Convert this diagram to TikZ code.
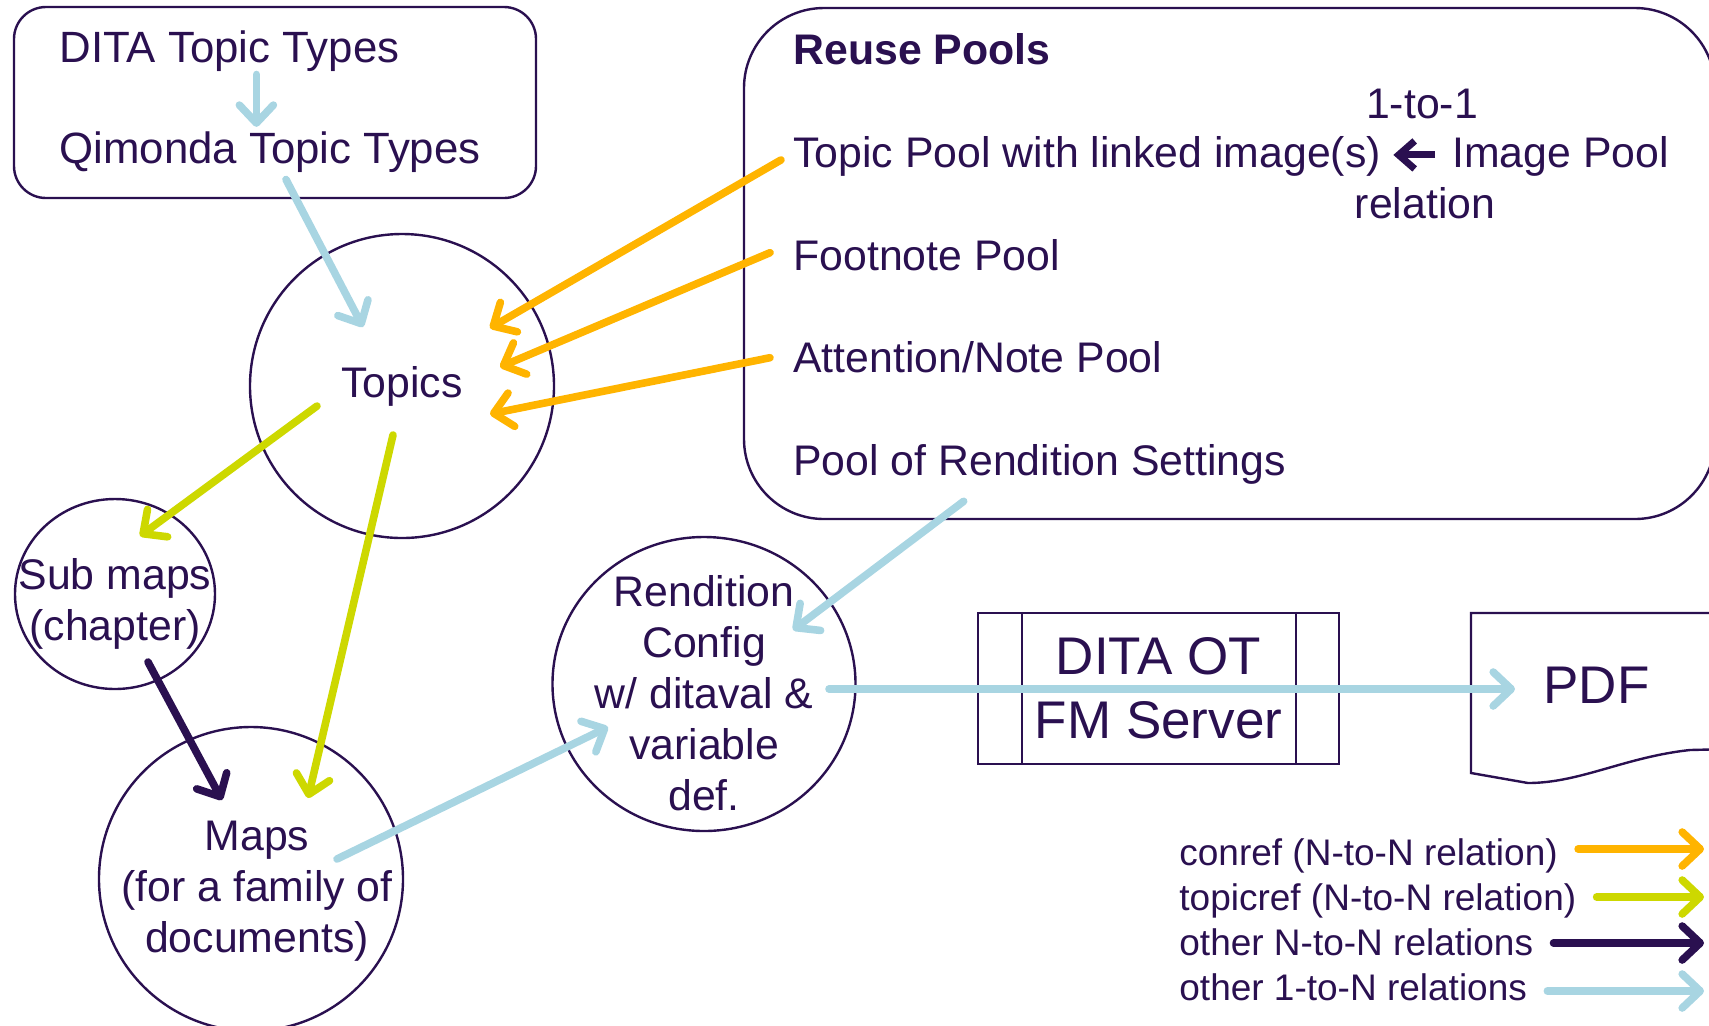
\documentclass[tikz,border=0pt]{standalone}
\usepackage{fontspec}
\setmainfont{Liberation Sans}
\usepackage{tikz}
\usetikzlibrary{arrows.meta,calc,shapes.geometric}
\definecolor{ink}{HTML}{2A1050}
\definecolor{skyline}{HTML}{A8D5E2}
\definecolor{amber}{HTML}{FFB400}
\definecolor{lime}{HTML}{CDD800}
\tikzset{
  txt/.style={font=\fontsize{21.4}{25.5}\selectfont,text=ink,inner sep=0pt},
  lgd/.style={font=\fontsize{18.5}{22.5}\selectfont,text=ink,inner sep=0pt,anchor=base west},
  bubble/.style={ellipse,draw=ink,line width=1.2pt,inner sep=0pt},
  frame/.style={draw=ink,line width=1.2pt},
  rel/.style={line width=3.8pt,line cap=round,-{Straight Barb[length=9pt,width=17pt,round]}},
  conref/.style={rel,amber},
  topicref/.style={rel,lime},
  nton/.style={rel,ink},
  oneton/.style={rel,skyline},
}
\begin{document}
\begin{tikzpicture}[x=0.5pt,y=-0.5pt,every label/.append style={txt,align=center}]
\useasboundingbox (0,0) rectangle (1709,1025);
\draw[frame,rounded corners=16pt](14,7) rectangle (536,198);
\node[txt,anchor=base west,font=\fontsize{21.9}{25.5}\selectfont] (ditatypes) at (59,62) {DITA Topic Types};
\node[txt,anchor=base west,font=\fontsize{21.9}{25.5}\selectfont] (qtypes) at (59,163) {Qimonda Topic Types};
\draw[frame,rounded corners=40pt](744,8) rectangle (1715,519);
\node[txt,anchor=base west,font=\fontsize{21.4}{25.5}\selectfont\bfseries] (reuse) at (793,64) {Reuse Pools};
\node[txt,anchor=base west] (tpool) at (793,167) {Topic Pool with linked image(s)};
\node[txt,anchor=base west] (imgpool) at (1452,167) {Image Pool};
\node[txt,anchor=base] (onetoone) at (1422,118) {1-to-1};
\node[txt,anchor=base] (relation) at (1425,218) {relation};
\node[txt,anchor=base west] (fnpool) at (793,270) {Footnote Pool};
\node[txt,anchor=base west] (anpool) at (793,372) {Attention/Note Pool};
\node[txt,anchor=base west] (rpool) at (793,475) {Pool of Rendition Settings};
\node[bubble,minimum width=152pt,minimum height=152pt,label={center:Topics}] (topics) at (402,386) {};
\node[bubble,minimum width=100pt,minimum height=95pt,label={[yshift=-5pt]center:Sub maps\\(chapter)}] (submaps) at (115,594) {};
\node[bubble,minimum width=152pt,minimum height=152pt,label={[xshift=3pt,yshift=-6pt]center:Maps\\(for a family of\\documents)}] (maps) at (251,879) {};
\node[bubble,minimum width=151.5pt,minimum height=147pt,label={[yshift=-4.75pt]center:Rendition\\Config\\w/ ditaval \&\\variable\\def.}] (rendition) at (704,684) {};
\node[frame,minimum width=180.5pt,minimum height=75.5pt,align=center,font=\fontsize{26.5}{32}\selectfont,text=ink] (ditaot) at (1158.5,688.5) {DITA OT\\FM Server};
\draw[frame]([xshift=22.5pt]ditaot.north west)--([xshift=22.5pt]ditaot.south west);
\draw[frame]([xshift=-22pt]ditaot.north east)--([xshift=-22pt]ditaot.south east);
\draw[frame](1730,613)--(1471,613)--(1471,773)--(1528,783)..controls (1580,783) and (1625,757)..(1690,750)--(1730,749);
\node[txt,anchor=base west,font=\fontsize{26.5}{32}\selectfont] (pdftxt) at (1543,703) {PDF};
\draw[oneton,shorten >=2pt]($(ditatypes.south)+(27,3)$) coordinate (d)--(d |- qtypes.north);
\draw[oneton]($(qtypes.south)+(16,7)$)--($(topics)+(-39,-59)$);
\draw[conref]($(tpool.west)+(-12,4)$)--($(topics)+(88,-58)$);
\draw[conref]($(fnpool.west)+(-23,-2)$)--($(topics)+(98,-19)$);
\draw[conref]($(anpool.west)+(-23,1)$)--($(topics)+(88,28)$);
\draw[topicref]($(topics)+(-85,20)$)--($(submaps)+(25,-58)$);
\draw[topicref]($(topics)+(-9,49)$)--($(maps)+(57,-81)$);
\draw[nton]($(submaps)+(33,68)$)--($(maps)+(-29,-79)$);
\draw[oneton]($(maps)+(86,-20)$)--($(rendition)+(-96,43)$);
\draw[oneton]($(rpool.south)+(-76,17)$)--($(rendition)+(89,-54)$);
\coordinate (cfgout) at ($(rendition)+(125,5)$);
\coordinate (pdfin) at ($(pdftxt.west)+(-28,0)$);
\draw[oneton](cfgout)--(cfgout -| pdfin);
\draw[ink,line width=3.5pt,-{Straight Barb[length=8pt,width=14pt]}]($(imgpool.west)+(-17,-1)$)--($(tpool.east)+(12,-1)$);
\node[lgd] (lgconref) at (1179,865) {conref (N-to-N relation)};
\node[lgd] (lgtopicref) at (1179,910) {topicref (N-to-N relation)};
\node[lgd] (lgnton) at (1179,955) {other N-to-N relations};
\node[lgd] (lgoneton) at (1179,1000) {other 1-to-N relations};
\coordinate (rim) at (1704,0);
\foreach \nm/\st/\dy in {lgconref/conref/-16,lgtopicref/topicref/-13,lgnton/nton/-12,lgoneton/oneton/-9}
  \draw[\st]($(\nm.base east)+(20,\dy)$) coordinate (s)--(s -| rim);
\end{tikzpicture}
\end{document}
